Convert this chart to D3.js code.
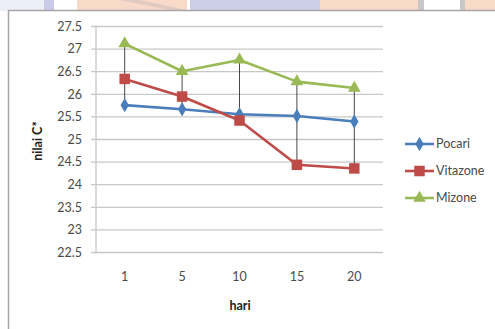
<!DOCTYPE html>
<html><head><meta charset="utf-8">
<script src="https://cdn.jsdelivr.net/npm/d3@7"></script>
<style>body{margin:0;background:#fff}svg{display:block}</style>
</head><body><svg id="c" width="495" height="329"></svg>
<script>
const categories = ["1","5","10","15","20"];
const pocari   = [25.76, 25.67, 25.56, 25.52, 25.40];
const vitazone = [26.34, 25.95, 25.42, 24.44, 24.36];
const mizone   = [27.12, 26.51, 26.76, 26.28, 26.14];
const yTicks = [22.5,23,23.5,24,24.5,25,25.5,26,26.5,27,27.5];
const seriesNames = ["Pocari","Vitazone","Mizone"];
const seriesColors = ["#4a7ebb","#be4b48","#98b954"];
const series = [pocari, vitazone, mizone];

const svg = d3.select("#c");
const font = "Lato, 'Open Sans', sans-serif";

// decorative background strip on top
const strip = [[0,44,"#eceef8"],[44,10,"#c9cbe8"],[77,110,"#f9d9c8"],[190,130,"#cdcfe9"],[320,100,"#f9d9c8"],[418,6,"#c8c8c8"],[424,36,"#ffffff"],[460,5,"#c8c8c8"],[465,30,"#f9d9c8"]];
svg.selectAll("rect.bg").data(strip).join("rect").attr("x",d=>d[0]).attr("y",0).attr("width",d=>d[1]).attr("height",11).attr("fill",d=>d[2]);
svg.append("path").attr("d","M120,0 L175,11 L190,11 L140,0Z").attr("fill","#d9c7c0").attr("opacity",0.8);

// chart frame
svg.append("rect").attr("x",8.5).attr("y",10.5).attr("width",500).attr("height",330).attr("fill","#fff").attr("stroke","#a6a6a6").attr("stroke-width",1.5);

const x = d3.scaleBand().domain(categories).range([96,383]);
const y = d3.scaleLinear().domain([22.5,27.5]).range([252.5,26.5]);

// gridlines
svg.append("g").selectAll("line").data(yTicks).join("line")
  .attr("x1",91).attr("x2",383).attr("y1",d=>y(d)).attr("y2",d=>y(d))
  .attr("stroke","#c8c8c8").attr("stroke-width",1.3);
// y axis line
svg.append("line").attr("x1",96).attr("x2",96).attr("y1",y(27.5)).attr("y2",y(22.5)).attr("stroke","#c8c8c8").attr("stroke-width",1.3);

// y tick labels
svg.append("g").selectAll("text").data(yTicks).join("text")
  .attr("x",82).attr("y",d=>y(d)).attr("dy","0.35em").attr("text-anchor","end")
  .attr("font-family",font).attr("font-size",12.5).attr("fill","#4a4a4a").text(d=>d);
// x tick labels
svg.append("g").selectAll("text").data(categories).join("text")
  .attr("x",d=>x(d)+x.bandwidth()/2).attr("y",277).attr("dy","0.35em").attr("text-anchor","middle")
  .attr("font-family",font).attr("font-size",12.5).attr("fill","#4a4a4a").text(d=>d);

// axis titles
svg.append("text").attr("x",240).attr("y",306).attr("dy","0.35em").attr("text-anchor","middle")
  .attr("font-family",font).attr("font-size",12.5).attr("font-weight","bold").attr("fill","#222").text("hari");
svg.append("text").attr("transform","translate(38,141) rotate(-90)").attr("dy","0.35em").attr("text-anchor","middle")
  .attr("font-family",font).attr("font-size",12.5).attr("font-weight","bold").attr("fill","#222").text("nilai C*");

// high-low lines
svg.append("g").selectAll("line").data(categories).join("line")
  .attr("x1",d=>x(d)+x.bandwidth()/2).attr("x2",d=>x(d)+x.bandwidth()/2)
  .attr("y1",(d,i)=>y(d3.max(series,s=>s[i]))).attr("y2",(d,i)=>y(d3.min(series,s=>s[i])))
  .attr("stroke","#333").attr("stroke-width",0.9);

const cx = d => x(d)+x.bandwidth()/2;
const symbols = [d3.symbolDiamond, d3.symbolSquare, d3.symbolTriangle];
const sizes = [60, 110, 70];

series.forEach((vals,si)=>{
  const pts = categories.map((c,i)=>[cx(c), y(vals[i])]);
  svg.append("path").attr("d",d3.line()(pts)).attr("fill","none")
    .attr("stroke",seriesColors[si]).attr("stroke-width",2.6).attr("stroke-linejoin","round");
  svg.append("g").selectAll("path").data(pts).join("path")
    .attr("transform",d=>`translate(${d[0]},${d[1]})`)
    .attr("d",d3.symbol().type(symbols[si]).size(sizes[si])).attr("fill",seriesColors[si]);
});

// legend
const lg = svg.append("g");
seriesNames.forEach((n,i)=>{
  const ly = 144 + i*27;
  lg.append("line").attr("x1",405).attr("x2",434).attr("y1",ly).attr("y2",ly).attr("stroke",seriesColors[i]).attr("stroke-width",2.6);
  lg.append("path").attr("transform",`translate(419.5,${ly})`).attr("d",d3.symbol().type(symbols[i]).size(sizes[i])).attr("fill",seriesColors[i]);
  lg.append("text").attr("x",436).attr("y",ly).attr("dy","0.35em").attr("font-family",font).attr("font-size",12.5).attr("fill","#4a4a4a").text(n);
});
</script></body></html>
